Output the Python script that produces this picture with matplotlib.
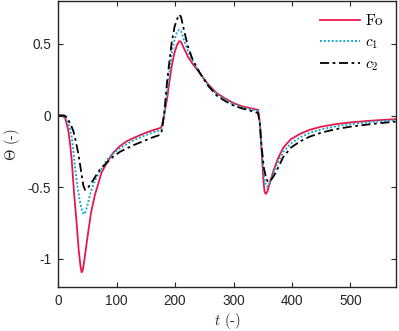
import numpy as np
import matplotlib
matplotlib.use("Agg")
import matplotlib.pyplot as plt

plt.rcParams['mathtext.fontset'] = 'cm'
plt.rcParams['axes.unicode_minus'] = False
plt.rcParams['font.family'] = ['Liberation Sans', 'DejaVu Sans']

# ---- data ----
t_fo = [0, 7, 12, 17, 20, 23, 27, 31, 35, 38, 40, 42, 45, 50, 56, 63, 69, 74, 83, 94, 105, 117,
        130, 145, 160, 174, 177, 181, 186, 190, 194, 199, 203, 207, 210, 215, 222, 230, 242, 256,
        271, 286, 300, 314, 328, 338, 342, 345, 348, 351, 353, 355, 358, 362, 368, 376, 385, 398,
        414, 430, 450, 475, 500, 535, 578]
fo = [0, 0, -0.02, -0.10, -0.19, -0.31, -0.54, -0.73, -0.94, -1.05, -1.095, -1.08, -1.00, -0.85,
      -0.68, -0.55, -0.47, -0.40, -0.33, -0.26, -0.215, -0.18, -0.155, -0.128, -0.105, -0.088,
      -0.077, 0.0, 0.11, 0.23, 0.343, 0.44, 0.49, 0.52, 0.515, 0.47, 0.41, 0.36, 0.297, 0.22,
      0.157, 0.118, 0.087, 0.065, 0.052, 0.043, 0.04, -0.05, -0.25, -0.45, -0.53, -0.548, -0.53,
      -0.47, -0.39, -0.30, -0.225, -0.165, -0.128, -0.100, -0.078, -0.060, -0.048, -0.036, -0.025]

t_c1 = [0, 9, 14, 19, 23, 26, 29, 33, 37, 41, 44, 47, 51, 56, 62, 70, 83, 94, 105, 117, 130,
        145, 160, 174, 177, 181, 186, 190, 194, 199, 203, 207, 210, 215, 222, 230, 242, 256, 271,
        286, 300, 314, 328, 338, 342, 345, 348, 351, 354, 357, 360, 364, 370, 378, 385, 398, 414,
        430, 450, 475, 500, 535, 578]
c1 = [0, 0, -0.02, -0.08, -0.15, -0.25, -0.38, -0.50, -0.60, -0.67, -0.69, -0.67, -0.61, -0.53,
      -0.46, -0.40, -0.31, -0.265, -0.23, -0.20, -0.17, -0.145, -0.12, -0.105, -0.095, 0.0, 0.16,
      0.29, 0.43, 0.53, 0.58, 0.60, 0.59, 0.53, 0.45, 0.38, 0.30, 0.215, 0.15, 0.11, 0.08, 0.058,
      0.044, 0.034, 0.03, -0.05, -0.22, -0.38, -0.47, -0.497, -0.49, -0.45, -0.38, -0.31, -0.255,
      -0.195, -0.152, -0.122, -0.097, -0.076, -0.060, -0.045, -0.033]

t_c2 = [0, 10, 14, 17, 21, 26, 30, 34, 38, 41, 43, 46, 50, 55, 60, 66, 71, 83, 94, 105, 117, 130,
        145, 160, 174, 177, 181, 186, 190, 194, 199, 203, 207, 210, 215, 222, 230, 242, 256, 271,
        286, 300, 314, 328, 338, 342, 345, 348, 352, 356, 359, 362, 366, 372, 378, 385, 398, 414,
        430, 450, 475, 500, 535, 578]
c2 = [0, 0, -0.01, -0.03, -0.06, -0.11, -0.18, -0.26, -0.36, -0.44, -0.49, -0.52, -0.51, -0.48,
      -0.45, -0.41, -0.38, -0.33, -0.287, -0.255, -0.23, -0.205, -0.18, -0.155, -0.135, -0.11,
      0.0, 0.227, 0.37, 0.507, 0.62, 0.67, 0.705, 0.69, 0.60, 0.48, 0.39, 0.30, 0.21, 0.14, 0.10,
      0.07, 0.05, 0.035, 0.022, 0.017, -0.06, -0.22, -0.37, -0.44, -0.465, -0.46, -0.44, -0.40,
      -0.35, -0.29, -0.225, -0.180, -0.148, -0.120, -0.095, -0.078, -0.060, -0.042]

labels = [r'$\mathrm{Fo}$', r'$c_1$', r'$c_2$']
colors = ['#e8174b', '#1ba6cf', '#000000']

xticks = [0, 100, 200, 300, 400, 500]
xticklabels = ['0', '100', '200', '300', '400', '500']
yticks = [-1, -0.5, 0, 0.5]
yticklabels = ['-1', '-0.5', '0', '0.5']

# ---- plot ----
fig = plt.figure(figsize=(3.99, 3.31), dpi=100)
ax = fig.add_axes([0.146, 0.132, 0.8465, 0.865])

ax.plot(t_fo, fo, color=colors[0], lw=1.3, label=labels[0])
ax.plot(t_c1, c1, color=colors[1], lw=1.4, linestyle=(0, (1, 1)), label=labels[1])
ax.plot(t_c2, c2, color=colors[2], lw=1.3, linestyle=(0, (5, 2, 1.5, 2)), label=labels[2])

ax.set_xlim(0, 578)
ax.set_ylim(-1.2, 0.8)
ax.set_xticks(xticks)
ax.set_xticklabels(xticklabels)
ax.set_yticks(yticks)
ax.set_yticklabels(yticklabels)
ax.tick_params(direction='in', top=True, right=True, length=3.5, width=0.8,
               labelsize=9.8, colors='#262626', pad=5)
for s in ax.spines.values():
    s.set_linewidth(1.0)
    s.set_color('#262626')

ax.set_xlabel(r'$t$ (-)', fontsize=10.5, family='cmr10', color='#262626', labelpad=2)
ax.set_ylabel(r'$\Theta$ (-)', fontsize=10.5, family='cmr10', color='#262626', labelpad=4)

leg = ax.legend(loc='upper right', frameon=False, fontsize=11, handlelength=2.6,
                handletextpad=0.3, labelspacing=0.45, borderaxespad=0.4)

fig.savefig('out.png', dpi=100)
